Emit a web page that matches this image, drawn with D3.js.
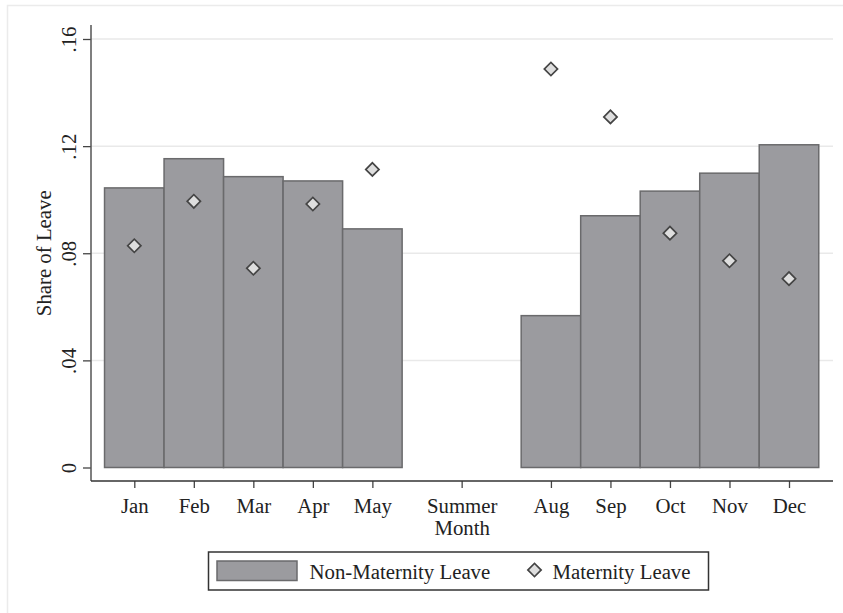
<!DOCTYPE html>
<html>
<head>
<meta charset="utf-8">
<script src="https://cdn.jsdelivr.net/npm/d3@7"></script>
<style>
  html, body { margin: 0; padding: 0; background: #fff; }
  svg { display: block; }
  text { font-family: "Liberation Serif", "Times New Roman", serif; fill: #222; }
</style>
</head>
<body>
<svg id="chart" width="843" height="613"></svg>
<script>
// ---- data ----
const barMonths = [1, 2, 3, 4, 5, 8, 9, 10, 11, 12];
const nonMaternity = [0.1044, 0.1153, 0.1086, 0.1070, 0.0891, 0.0567, 0.0940, 0.1032, 0.1099, 0.1205];
const maternity = [0.0828, 0.0994, 0.0744, 0.0984, 0.1113, 0.1488, 0.1309, 0.0875, 0.0772, 0.0705];
const xTickValues = [1, 2, 3, 4, 5, 6.5, 8, 9, 10, 11, 12];
const xTickLabels = ["Jan", "Feb", "Mar", "Apr", "May", "Summer\nMonth", "Aug", "Sep", "Oct", "Nov", "Dec"];
const yTickValues = [0, 0.04, 0.08, 0.12, 0.16];
const yTickLabels = ["0", ".04", ".08", ".12", ".16"];
const legendLabels = ["Non-Maternity Leave", "Maternity Leave"];
const yTitle = "Share of Leave";

// ---- layout ----
const W = 843, H = 613;
const plot = { left: 91, right: 833, top: 25, bottom: 481 };
const FS = 20.8;
const barFill = "#9b9b9f", barStroke = "#6a6a6c";
const dFill = "#dedede", dStroke = "#444";

const svg = d3.select("#chart");

// outer frame
svg.append("rect").attr("x", 7.5).attr("y", 5.5).attr("width", W).attr("height", H + 10)
  .attr("fill", "#fff").attr("stroke", "#ebebeb").attr("stroke-width", 1.5);

const x = d3.scaleLinear().domain([1, 12]).range([134.3, 789]);
const y = d3.scaleLinear().domain([0, 0.16]).range([467.5, 39]);
const step = x(2) - x(1);

// gridlines
svg.append("g").selectAll("line").data(yTickValues.filter(v => v > 0)).join("line")
  .attr("x1", plot.left).attr("x2", plot.right)
  .attr("y1", d => y(d)).attr("y2", d => y(d))
  .attr("stroke", "#e9e9e9").attr("stroke-width", 1.5);

// bars
svg.append("g").selectAll("rect").data(barMonths).join("rect")
  .attr("x", d => x(d) - step / 2)
  .attr("width", step)
  .attr("y", (d, i) => y(nonMaternity[i]))
  .attr("height", (d, i) => y(0) - y(nonMaternity[i]))
  .attr("fill", barFill).attr("stroke", barStroke).attr("stroke-width", 1.5);

// diamonds
const diamond = d3.symbol().type(d3.symbolSquare).size(88);
svg.append("g").selectAll("path").data(barMonths).join("path")
  .attr("d", diamond)
  .attr("transform", (d, i) => `translate(${x(d)},${y(maternity[i])}) rotate(45)`)
  .attr("fill", dFill).attr("stroke", dStroke).attr("stroke-width", 1.7);

// y axis
const yAxis = d3.axisLeft(y).tickValues(yTickValues).tickSize(8).tickPadding(6)
  .tickFormat((d, i) => yTickLabels[i]);
const gy = svg.append("g").attr("transform", `translate(${plot.left},0)`).call(yAxis);
gy.select(".domain").remove();
gy.selectAll(".tick line").attr("stroke", "#444").attr("stroke-width", 1.3);
gy.selectAll(".tick text")
  .attr("font-size", FS)
  .attr("x", 0).attr("dy", null)
  .attr("text-anchor", "middle")
  .attr("transform", "translate(-15,0) rotate(-90)");
svg.append("line").attr("x1", plot.left).attr("x2", plot.left)
  .attr("y1", plot.top).attr("y2", plot.bottom)
  .attr("stroke", "#555").attr("stroke-width", 1.5);

// x axis
const xAxis = d3.axisBottom(x).tickValues(xTickValues).tickSize(7).tickFormat("");
const gx = svg.append("g").attr("transform", `translate(0,${plot.bottom})`).call(xAxis);
gx.select(".domain").remove();
gx.selectAll(".tick line").attr("stroke", "#444").attr("stroke-width", 1.3);
gx.selectAll(".tick").each(function (d, i) {
  const lines = xTickLabels[i].split("\n");
  const t = d3.select(this).append("text")
    .attr("font-size", FS).attr("text-anchor", "middle").attr("fill", "#222");
  lines.forEach((ln, k) => {
    t.append("tspan").attr("x", 0).attr("y", 32 + k * 22).text(ln);
  });
});
svg.append("line").attr("x1", plot.left).attr("x2", plot.right)
  .attr("y1", plot.bottom).attr("y2", plot.bottom)
  .attr("stroke", "#333").attr("stroke-width", 1.5);

// y title
svg.append("text").attr("transform", `translate(51,${(y(0) + y(0.16)) / 2}) rotate(-90)`)
  .attr("text-anchor", "middle").attr("font-size", FS).text(yTitle);

// legend
const lg = svg.append("g");
lg.append("rect").attr("x", 208.5).attr("y", 552).attr("width", 500).attr("height", 38)
  .attr("fill", "#fff").attr("stroke", "#333").attr("stroke-width", 1.5);
lg.append("rect").attr("x", 217).attr("y", 561).attr("width", 80).attr("height", 19.5)
  .attr("fill", barFill).attr("stroke", barStroke).attr("stroke-width", 1.5);
lg.append("text").attr("x", 309.5).attr("y", 579).attr("font-size", FS).text(legendLabels[0]);
lg.append("path").attr("d", diamond).attr("transform", "translate(534.5,570) rotate(45)")
  .attr("fill", dFill).attr("stroke", dStroke).attr("stroke-width", 1.7);
lg.append("text").attr("x", 552.5).attr("y", 579).attr("font-size", FS).text(legendLabels[1]);
</script>
</body>
</html>
